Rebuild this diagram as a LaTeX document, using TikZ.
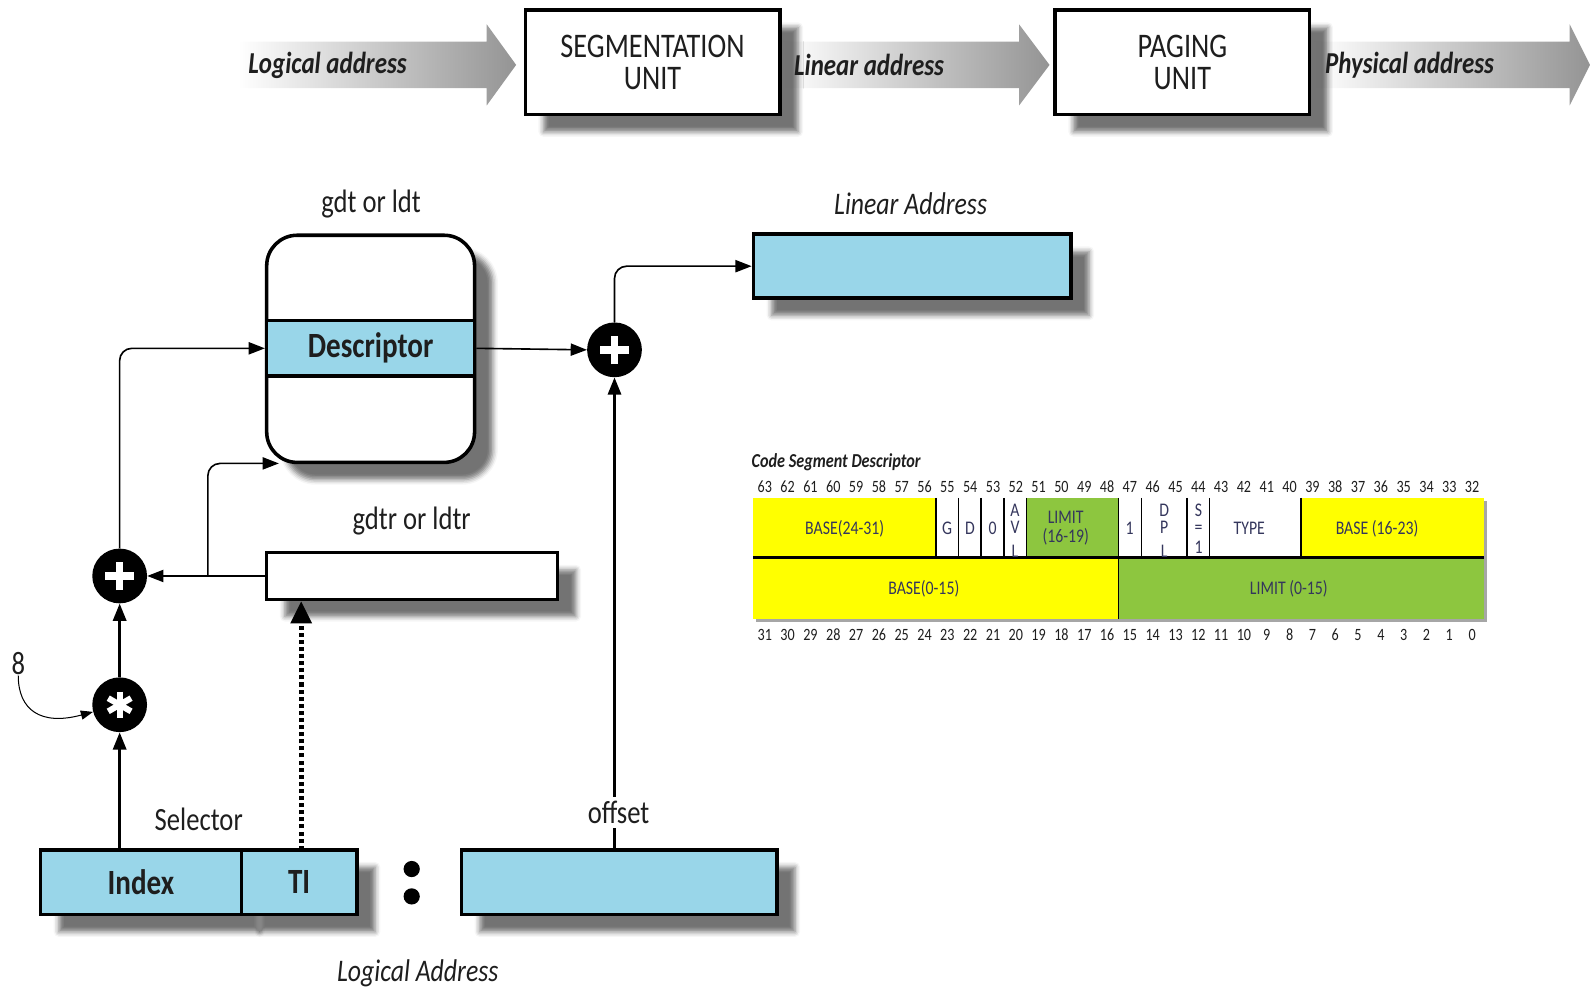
\documentclass[tikz,border=0pt]{standalone}
\usepackage{fontspec}
\setmainfont{Carlito}[FakeStretch=0.82]
\usetikzlibrary{arrows.meta,shadows.blur,calc}

\definecolor{cellblue}{HTML}{99D6E9}
\definecolor{fieldyellow}{HTML}{FFFF00}
\definecolor{fieldgreen}{HTML}{8DC63F}
\definecolor{fieldtext}{HTML}{34365C}
\definecolor{labeltext}{HTML}{1E1E1E}

\newcommand\fsz[1]{\fontsize{#1}{#1}\selectfont}

\begin{document}
\begin{tikzpicture}[x=1pt,y=-1pt,
  boxshadow/.style={blur shadow={shadow xshift=18pt, shadow yshift=-17pt,
      shadow blur radius=5pt, shadow opacity=55}},
  unitbox/.style={draw, line width=3.5pt, fill=white, minimum width=251pt,
      minimum height=103pt, align=center, boxshadow,
      font=\fsz{34}, text=labeltext},
  bluebox/.style={draw, line width=3.5pt, fill=cellblue, boxshadow,
      inner sep=0pt, font=\fsz{35}\bfseries, text=labeltext},
  whitebox/.style={draw, line width=3.5pt, fill=white, boxshadow, inner sep=0pt},
  caption/.style={font=\fsz{32}, text=labeltext, inner sep=1pt},
  bannertext/.style={font=\fsz{30}\bfseries\itshape, text=labeltext},
  opnode/.style={circle, fill=black, minimum size=54pt, inner sep=0pt},
  plussign/.style={opnode, path picture={
      \draw[white, line width=7.5pt] ($(path picture bounding box.center)+(-14pt,0)$) -- ++(28pt,0);
      \draw[white, line width=7.5pt] ($(path picture bounding box.center)+(0,-14pt)$) -- ++(0,28pt);}},
  starsign/.style={opnode, path picture={
      \foreach \a in {90,30,-30}{
        \draw[white, line width=6pt] ($(path picture bounding box.center)+(\a:13pt)$) -- ($(path picture bounding box.center)+(\a+180:13pt)$);}}},
  conn/.style={line width=1.6pt, -{Triangle[length=16pt,width=12pt]}},
  bigconn/.style={line width=2.6pt, -{Triangle[length=17pt,width=13pt]}},
  tagconn/.style={line width=5pt, dash pattern=on 4pt off 3pt,
      -{Triangle[length=22pt,width=20pt]}},
  bitnum/.style={font=\fsz{17}, text=labeltext, inner sep=0pt},
  fieldlabel/.style={font=\fsz{19}, text=fieldtext, inner sep=0pt, align=center},
  stacklabel/.style={font=\fontsize{19}{17}\selectfont, text=fieldtext, inner sep=0pt,
      align=center, anchor=north},
]
\useasboundingbox (0,0) rectangle (1568,979);

% ---------- address translation banner ----------
\shade[left color=white, right color=black!42]
  (235,41) -- (480,41) -- (480,24) -- (509,64) -- (480,104) -- (480,87) -- (235,87) -- cycle;
\shade[left color=white, right color=black!42]
  (772,41) -- (1005,41) -- (1005,24) -- (1035,64) -- (1005,104) -- (1005,87) -- (772,87) -- cycle;
\shade[left color=white, right color=black!42]
  (1296,41) -- (1548,41) -- (1548,24) -- (1568,64) -- (1548,104) -- (1548,87) -- (1296,87) -- cycle;

\node[bannertext] (logtxt) at (323,64) {Logical address};
\node[unitbox] (seg) at (643.5,61.5) {SEGMENTATION\\[-3pt]UNIT};
\node[bannertext] (lintxt) at (857,64) {Linear address};
\node[unitbox] (pag) at (1166,61.5) {PAGING\\[-3pt]UNIT};
\node[bannertext] (phytxt) at (1390,64) {Physical address};

% ---------- descriptor table and linear address ----------
\node[caption] (gdtlabel) at (366,201) {gdt or ldt};
\node[whitebox, rounded corners=30pt, minimum width=205pt, minimum height=224pt] (gdt) at (365.5,344) {};
\node[draw, line width=3.5pt, fill=cellblue, minimum width=205pt, minimum height=55pt,
      inner sep=0pt, font=\fsz{35}\bfseries, text=labeltext] (desc) at (365.5,343.5) {Descriptor};

\node[caption, font=\fsz{31}\itshape] (linlabel) at (898,201) {Linear Address};
\node[bluebox, minimum width=313pt, minimum height=63pt] (lin) at (899.5,262.5) {};

\node[plussign] (addlin) at (606,345) {};

% ---------- table register ----------
\node[caption] (gdtrlabel) at (406,514) {gdtr or ldtr};
\node[whitebox, minimum width=287pt, minimum height=46pt] (gdtr) at (406.5,568) {};

\node[plussign] (addtab) at (118,568) {};
\node[starsign] (mul) at (118,695) {};
\node[caption] (eight) at (18,654) {8};

% ---------- logical address ----------
\node[caption] (sellabel) at (196,808) {Selector};
\node[bluebox, minimum width=198pt, minimum height=64pt] (idx) at (139,870) {Index};
\node[bluebox, minimum width=114pt, minimum height=64pt] (ti) at (295,870) {TI};
\fill (406,857) circle (8pt) (406,884) circle (8pt);
\node[bluebox, minimum width=311pt, minimum height=64pt] (off) at (610.5,870) {};
\node[caption, font=\fsz{31}\itshape] (loglabel) at (412,960) {Logical Address};

% ---------- connectors ----------
\draw[conn] (desc.east) -- (addlin.west);
\draw[conn, rounded corners=12pt] (addlin.north) |- (lin.west);
\draw[bigconn] (off.north -| addlin) -- (addlin.south);
\node[caption, fill=white, inner sep=4pt] (offlabel) at (610,801) {offset};

\draw[bigconn] (mul |- idx.north) -- (mul.south);
\draw[bigconn] (mul.north) -- (addtab.south);
\draw[conn, rounded corners=12pt] (addtab.north) |- (desc.west);
\draw[conn] (gdtr.west) -- (addtab.east);
\coordinate (split) at (205,568);
\coordinate (gdtfoot) at (275,457);
\draw[conn, rounded corners=12pt] (split) |- (gdtfoot);
\coordinate (tifoot) at (297,838);
\draw[tagconn] (tifoot) -- (tifoot |- gdtr.south);
\draw[line width=1pt, -{Triangle[length=12pt,width=9pt]}]
  (eight.south) .. controls (18,700) and (40,716) .. (mul.195);

% ---------- code segment descriptor layout ----------
\node[font=\fsz{19.5}\bfseries\itshape, text=labeltext, anchor=west, inner sep=0pt] (csdlabel) at (741,456) {Code Segment Descriptor};
\begin{scope}
  \def\bw{22.5}
  % shadow under the layout
  \fill[black!35] (746,494) rectangle (1466,613);
  % upper double word
  \fill[fieldyellow] (743,491) rectangle (923,550);
  \fill[white] (923,491) rectangle (1012.5,550);
  \fill[fieldgreen] (1012.5,491) rectangle (1103,550);
  \fill[white] (1103,491) rectangle (1283,550);
  \fill[fieldyellow] (1283,491) rectangle (1463,550);
  % lower double word
  \fill[fieldyellow] (743,550) rectangle (1103,610);
  \fill[fieldgreen] (1103,550) rectangle (1463,610);
  % field separators
  \foreach \xx in {923,945.5,967.5,990,1012.5,1103,1125.5,1170.5,1193,1283}
    \draw[line width=1.2pt] (\xx,491) -- (\xx,550);
  \draw[line width=1.2pt] (1103,550) -- (1103,610);
  \draw[line width=3pt] (743,550) -- (1463,550);
  % bit numbers
  \foreach \b in {32,...,63}
    \node[bitnum] at ({743+(63-\b+0.5)*\bw},480) {\b};
  \foreach \b in {0,...,31}
    \node[bitnum] at ({743+(31-\b+0.5)*\bw},626) {\b};
  % field names
  \node[fieldlabel] at (833,521) {BASE(24-31)};
  \node[fieldlabel] at (934,521) {G};
  \node[fieldlabel] at (956.5,521) {D};
  \node[fieldlabel] at (979,521) {0};
  \node[fieldlabel] at (1051,521) {LIMIT\\(16-19)};
  \node[fieldlabel] at (1114,521) {1};
  \node[fieldlabel] at (1232,521) {TYPE};
  \node[fieldlabel] at (1358,521) {BASE (16-23)};
  \node[fieldlabel] at (911,581) {BASE(0-15)};
  \node[fieldlabel] at (1271,581) {LIMIT (0-15)};
  % single-bit fields set vertically, cut off by the row boundary
  \begin{scope}
    \clip (743,491) rectangle (1463,548.5);
    \node[stacklabel] (avl) at (1001,497) {A\\V\\[6pt]L};
    \node[stacklabel] (dpl) at (1148,497) {D\\P\\[6pt]L};
    \node[stacklabel] (sflag) at (1182,497) {S\\=\\[2pt]1};
  \end{scope}
\end{scope}
\end{tikzpicture}
\end{document}
